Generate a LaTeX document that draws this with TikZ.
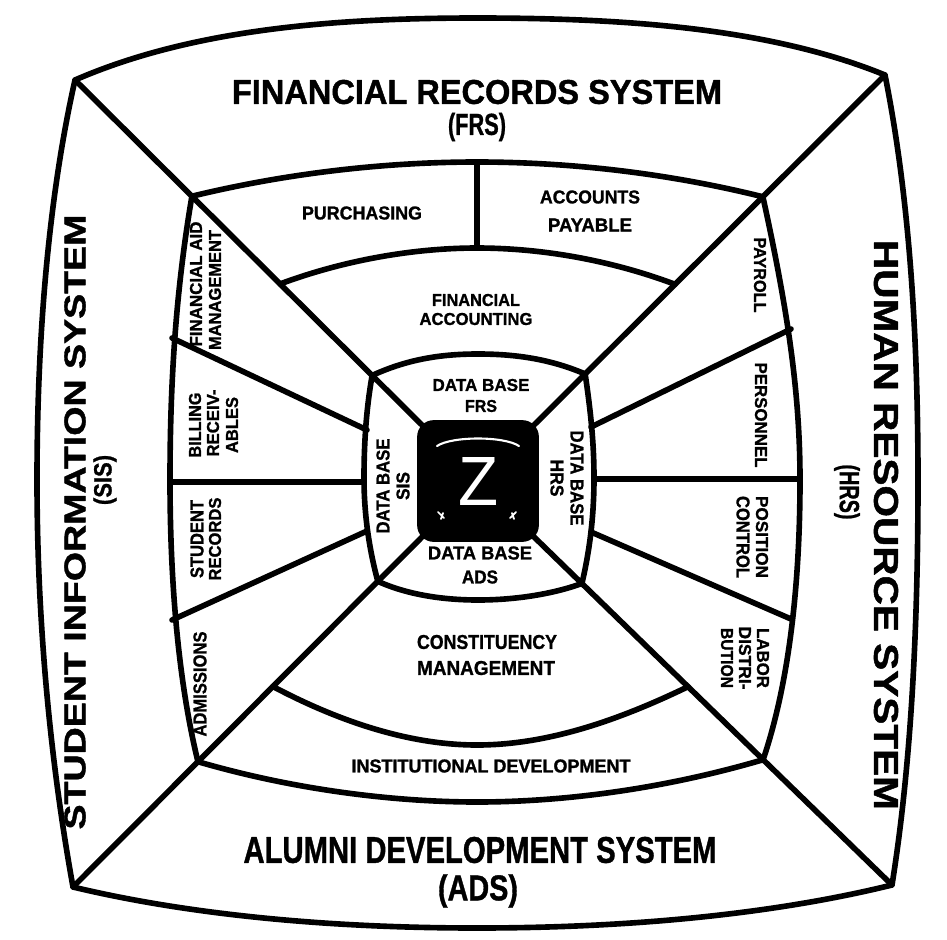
\documentclass[tikz,border=0pt]{standalone}
\usepackage{fontspec}
\setmainfont{Liberation Sans}
\newfontfamily\hv{Liberation Sans}[FakeBold=1.2]
\usepackage{graphicx}
\usetikzlibrary{calc}
\newlength\px \setlength\px{0.02cm}
\newcommand\fit[3]{\resizebox{#1\px}{#2\px}{\hv\bfseries #3}}
\begin{document}
\begin{tikzpicture}[x=0.02cm,y=-0.02cm,line join=round,line cap=round,
  edge/.style={line width=3.2pt},
  lb/.style={inner sep=0pt,outer sep=0pt}]
\useasboundingbox (0,0) rectangle (947,940);
\fill[white] (0,0) rectangle (947,940);
% corner coordinates
\coordinate (oTL) at (75,80);
\coordinate (oTR) at (885,75);
\coordinate (oBR) at (892,885);
\coordinate (oBL) at (73,887);
\coordinate (zTL) at (425,428);
\coordinate (zTR) at (531,428);
\coordinate (zBR) at (531,534);
\coordinate (zBL) at (425,534);
\coordinate (mTL) at ($(oTL)!0.334!(zTL)$);
\coordinate (mTR) at ($(oTR)!0.345!(zTR)$);
\coordinate (mBR) at ($(oBR)!0.357!(zBR)$);
\coordinate (mBL) at ($(oBL)!0.355!(zBL)$);
\coordinate (iTL) at ($(oTL)!0.849!(zTL)$);
\coordinate (iTR) at ($(oTR)!0.847!(zTR)$);
\coordinate (iBR) at ($(oBR)!0.859!(zBR)$);
\coordinate (iBL) at ($(oBL)!0.866!(zBL)$);
\coordinate (aTL) at ($(oTL)!0.586!(zTL)$);
\coordinate (aTR) at ($(oTR)!0.593!(zTR)$);
\coordinate (bBL) at ($(oBL)!0.568!(zBL)$);
\coordinate (bBR) at ($(oBR)!0.565!(zBR)$);
% outer shape
\draw[edge] (oTL) .. controls (190,30) and (330,18) .. (477,18)
  .. controls (625,18) and (770,28) .. (oTR)
  .. controls (910,200) and (918,340) .. (918,480)
  .. controls (918,620) and (912,760) .. (oBR)
  .. controls (770,915) and (625,928) .. (477,928)
  .. controls (330,928) and (190,915) .. (oBL)
  .. controls (50,760) and (37,620) .. (37,480)
  .. controls (37,340) and (48,200) .. (oTL) -- cycle;
% diagonals
\draw[edge] (oTL) -- (zTL);
\draw[edge] (oTR) -- (zTR);
\draw[edge] (oBR) -- (zBR);
\draw[edge] (oBL) -- (zBL);
% middle ring
\draw[edge] (mTL) .. controls (300,170) and (400,162) .. (477,162)
  .. controls (555,162) and (655,170) .. (mTR)
  .. controls (790,320) and (800,400) .. (800,480)
  .. controls (800,580) and (790,680) .. (mBR)
  .. controls (660,790) and (560,802) .. (477,802)
  .. controls (395,802) and (295,790) .. (mBL)
  .. controls (178,680) and (170,580) .. (170,480)
  .. controls (170,380) and (176,290) .. (mTL) -- cycle;
% top and bottom bands
\coordinate (dvT) at (477,162);
\coordinate (dvB) at (477,248);
\draw[edge] (dvT) -- (dvB);
\draw[edge] (aTL) .. controls (350,258) and (420,248) .. (dvB)
  .. controls (535,248) and (605,258) .. (aTR);
\draw[edge] (bBL) .. controls (340,722) and (410,745) .. (477,745)
  .. controls (545,745) and (615,722) .. (bBR);
% side separators
\coordinate (sL1a) at (172,338); \coordinate (sL1b) at (367,430);
\coordinate (sL2a) at (170,482); \coordinate (sL2b) at (364,482);
\coordinate (sL3a) at (172,620); \coordinate (sL3b) at (367,531);
\coordinate (sR1a) at (791,329); \coordinate (sR1b) at (591,427);
\coordinate (sR2a) at (800,479); \coordinate (sR2b) at (594,479);
\coordinate (sR3a) at (791,619); \coordinate (sR3b) at (591,532);
\draw[edge] (sL1a) -- (sL1b);
\draw[edge] (sL2a) -- (sL2b);
\draw[edge] (sL3a) -- (sL3b);
\draw[edge] (sR1a) -- (sR1b);
\draw[edge] (sR2a) -- (sR2b);
\draw[edge] (sR3a) -- (sR3b);
% inner ring
\draw[edge] (iTL) .. controls (410,358) and (445,354) .. (478,354)
  .. controls (512,354) and (548,358) .. (iTR)
  .. controls (592,420) and (594,450) .. (594,478)
  .. controls (594,510) and (591,545) .. (iBR)
  .. controls (550,595) and (512,600) .. (478,600)
  .. controls (444,600) and (408,595) .. (iBL)
  .. controls (368,545) and (364,510) .. (364,478)
  .. controls (364,445) and (366,410) .. (iTL) -- cycle;
% central block
\draw[fill=black,line width=1pt,rounded corners=9pt] (418,421) rectangle (538,541);
\draw[white,line width=1.2pt] (437,446) .. controls (452,436) and (504,436) .. (519,446);
\draw[white,line width=1pt] (438,512) -- (444,518) (441,519) -- (443,513);
\draw[white,line width=1pt] (516,512) -- (510,518) (512,513) -- (514,519);
\node[lb,white] (zz) at (478,481) {\resizebox{40\px}{48\px}{Z}};
% outer titles
\node[lb] (frs1) at (477,92) {\fit{490}{24}{FINANCIAL RECORDS SYSTEM}};
\node[lb] (frs2) at (477,127) {\fit{58}{22}{(FRS)}};
\node[lb] (ads1) at (480,850) {\fit{473}{26}{ALUMNI DEVELOPMENT SYSTEM}};
\node[lb] (ads2) at (478,891) {\fit{80}{26}{(ADS)}};
\node[lb,rotate=90] (sis1) at (75,522) {\fit{615}{21}{STUDENT INFORMATION SYSTEM}};
\node[lb,rotate=90] (sis2) at (105,480) {\fit{50}{18}{(SIS)}};
\node[lb,rotate=-90] (hrs1) at (886,525) {\fit{570}{24}{HUMAN RESOURCE SYSTEM}};
\node[lb,rotate=-90] (hrs2) at (847,492) {\fit{55}{20}{(HRS)}};
% top band
\node[lb] (pur) at (362,213) {\fit{120}{13}{PURCHASING}};
\node[lb] (acc1) at (590,197) {\fit{100}{13}{ACCOUNTS}};
\node[lb] (acc2) at (590,225) {\fit{84}{13}{PAYABLE}};
\node[lb] (fa1) at (476,300) {\fit{88}{12}{FINANCIAL}};
\node[lb] (fa2) at (476,319) {\fit{113}{12}{ACCOUNTING}};
% data bases
\node[lb] (dbf1) at (481,385) {\fit{97}{12}{DATA BASE}};
\node[lb] (dbf2) at (481,406) {\fit{32}{12}{FRS}};
\node[lb] (dba1) at (480,553) {\fit{104}{13}{DATA BASE}};
\node[lb] (dba2) at (480,577) {\fit{36}{13}{ADS}};
\node[lb,rotate=90] (dbs1) at (383,486) {\fit{95}{13}{DATA BASE}};
\node[lb,rotate=90] (dbs2) at (403,486) {\fit{28}{13}{SIS}};
\node[lb,rotate=-90] (dbh1) at (577,478) {\fit{95}{13}{DATA BASE}};
\node[lb,rotate=-90] (dbh2) at (557,478) {\fit{37}{13}{HRS}};
% left band
\node[lb,rotate=90] (fam1) at (196,284) {\fit{125}{12}{FINANCIAL AID}};
\node[lb,rotate=90] (fam2) at (215,290) {\fit{120}{12}{MANAGEMENT}};
\node[lb,rotate=90] (bil1) at (195,425) {\fit{65}{12}{BILLING}};
\node[lb,rotate=90] (bil2) at (213,423) {\fit{67}{12}{RECEIV-}};
\node[lb,rotate=90] (bil3) at (232,425) {\fit{56}{12}{ABLES}};
\node[lb,rotate=90] (str1) at (197,539) {\fit{78}{13}{STUDENT}};
\node[lb,rotate=90] (str2) at (215,539) {\fit{83}{12}{RECORDS}};
\node[lb,rotate=90] (adm) at (200,684) {\fit{105}{13}{ADMISSIONS}};
% right band
\node[lb,rotate=-90] (pay) at (760,275) {\fit{75}{12}{PAYROLL}};
\node[lb,rotate=-90] (per) at (761,415) {\fit{105}{12}{PERSONNEL}};
\node[lb,rotate=-90] (pos1) at (762,537) {\fit{82}{12}{POSITION}};
\node[lb,rotate=-90] (pos2) at (743,537) {\fit{82}{13}{CONTROL}};
\node[lb,rotate=-90] (lab1) at (763,658) {\fit{60}{12}{LABOR}};
\node[lb,rotate=-90] (lab2) at (745,658) {\fit{63}{12}{DISTRI-}};
\node[lb,rotate=-90] (lab3) at (727,658) {\fit{60}{12}{BUTION}};
% bottom band
\node[lb] (con1) at (487,642) {\fit{140}{14}{CONSTITUENCY}};
\node[lb] (con2) at (486,668) {\fit{138}{14}{MANAGEMENT}};
\node[lb] (ins) at (491,766) {\fit{279}{13}{INSTITUTIONAL DEVELOPMENT}};
\end{tikzpicture}
\end{document}
